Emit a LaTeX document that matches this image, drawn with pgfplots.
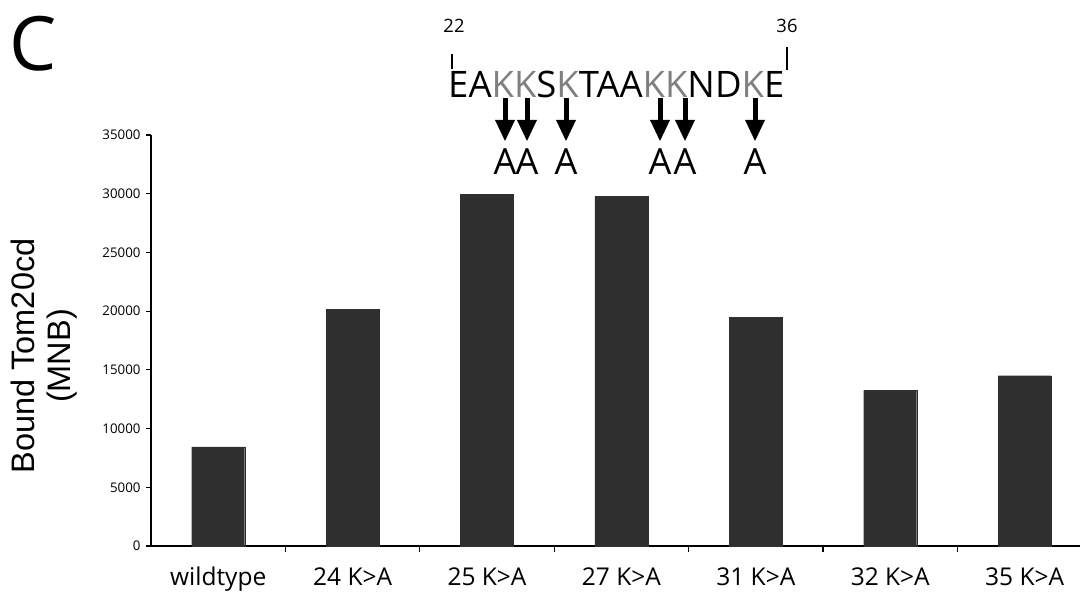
\documentclass[border=0pt]{standalone}
\usepackage{pgfplots}
\pgfplotsset{compat=1.18}
\usepackage{fontspec}
\setmainfont{Open Sans}
\newfontfamily\arialf{Liberation Sans}
\definecolor{barcol}{RGB}{47,47,47}
\definecolor{kgray}{RGB}{128,128,128}
\begin{document}
\begin{tikzpicture}
\path[use as bounding box] (0pt,0pt) rectangle (1081pt,-593pt);
\begin{axis}[
  at={(151pt,-546pt)}, anchor=south west,
  scale only axis, width=929pt, height=411pt,
  axis lines=left, axis line style={-, line width=1.5pt},
  xmin=-0.5, xmax=6.412, ymin=0, ymax=35000,
  ytick={0,5000,...,35000},
  xtick={0,...,6},
  xticklabels={wildtype, 24 K>A, 25 K>A, 27 K>A, 31 K>A, 32 K>A, 35 K>A},
  minor xtick={0.5,1.5,2.5,3.5,4.5,5.5},
  major x tick style={draw=none},
  tick style={black, line width=1.2pt},
  tick align=outside, major tick length=5pt, minor tick length=6pt,
  scaled y ticks=false,
  /pgf/number format/assume math mode=true,
  /pgf/number format/1000 sep={},
  yticklabel style={font=\fontsize{13.3}{13.3}\selectfont, xshift=-2pt},
  xticklabel style={font=\fontsize{24.5}{24.5}\selectfont, anchor=base, yshift=-34pt},
  clip=false,
]
\addplot[ybar, bar width=53pt, fill=barcol, draw=barcol] coordinates {
  (0,8450) (1,20150) (2,29950) (3,29800) (4,19500) (5,13250) (6,14500)
};
\end{axis}
\begin{scope}[x=1pt,y=-1pt]
\node[font=\fontsize{75}{75}\selectfont, inner sep=0] at (33,44) {C};
\node[rotate=90, align=center, inner sep=0, font=\arialf\fontsize{32.5}{36}\selectfont] at (44,356) {Bound Tom20cd\\(MNB)};
\node[anchor=base west, inner sep=0, font=\fontsize{36.5}{36.5}\selectfont] at (448,98) {EA\textcolor{kgray}{KK}S\textcolor{kgray}{K}TAA\textcolor{kgray}{KK}ND\textcolor{kgray}{K}E};
\node[anchor=base, inner sep=0, font=\fontsize{18.4}{18.4}\selectfont] at (454,33) {22};
\node[anchor=base, inner sep=0, font=\fontsize{18.4}{18.4}\selectfont] at (787,33) {36};
\draw[line width=2pt] (451.5,54) -- (451.5,69);
\draw[line width=2pt] (786.5,47) -- (786.5,70);
\foreach \px in {505,527,566,660,685,755} {
  \draw[line width=5pt] (\px,98) -- (\px,122);
  \fill (\px-10,120) -- (\px+10,120) -- (\px,141) -- cycle;
  \node[anchor=base, inner sep=0, font=\fontsize{36}{36}\selectfont] at (\px,175) {A};
}
\end{scope}
\end{tikzpicture}
\end{document}
